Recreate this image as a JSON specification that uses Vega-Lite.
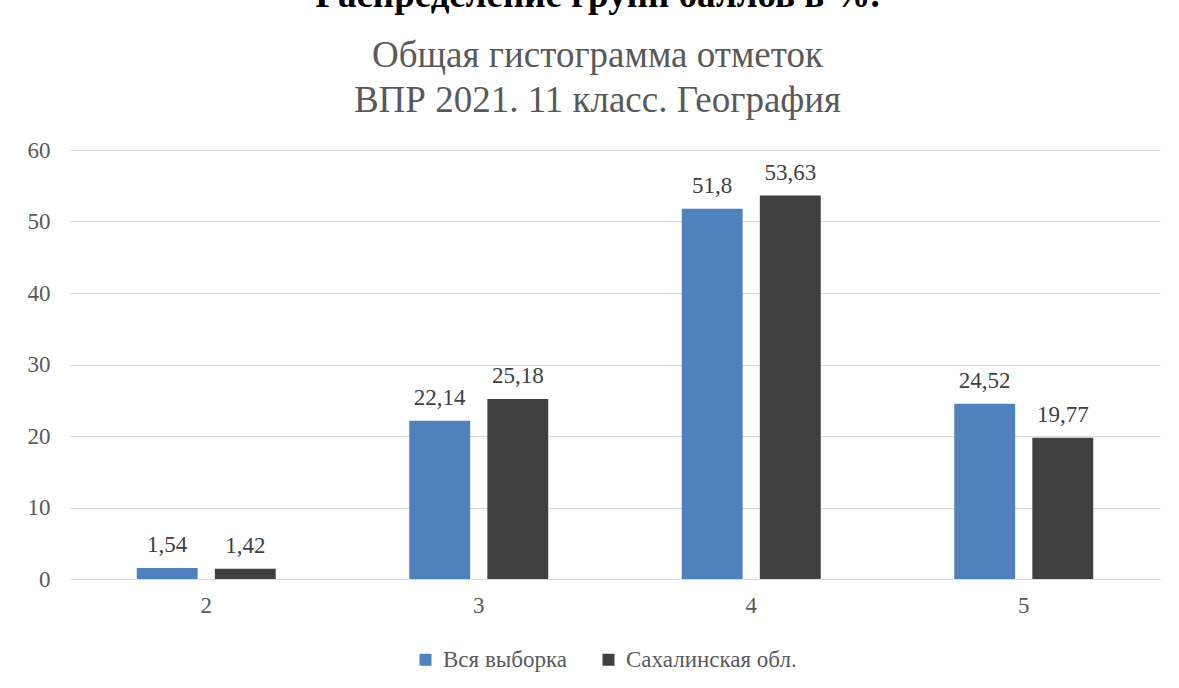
{
  "$schema": "https://vega.github.io/schema/vega-lite/v6.json",
  "autosize": "none",
  "width": 1090,
  "height": 429,
  "padding": {"left": 70, "top": 150, "right": 19, "bottom": 109},
  "background": "white",
  "title": {
    "text": "Распределение групп баллов в %.",
    "subtitle": ["Общая гистограмма отметок", "ВПР 2021. 11 класс. География"],
    "anchor": "middle",
    "frame": "bounds",
    "dx": 4,
    "font": "Liberation Serif",
    "fontSize": 37,
    "fontWeight": "bold",
    "color": "#000000",
    "subtitleFont": "Liberation Serif",
    "subtitleFontSize": 37,
    "subtitleFontWeight": "normal",
    "subtitleColor": "#595959",
    "subtitleLineHeight": 45,
    "subtitlePadding": 23,
    "offset": 19
  },
  "config": {
    "font": "Liberation Serif",
    "view": {"stroke": null},
    "locale": {"number": {"decimal": ",", "thousands": " ", "grouping": [3], "currency": ["", ""]}}
  },
  "data": {
    "values": [
      {"grade": "2", "series": "Вся выборка", "value": 1.54},
      {"grade": "2", "series": "Сахалинская обл.", "value": 1.42},
      {"grade": "3", "series": "Вся выборка", "value": 22.14},
      {"grade": "3", "series": "Сахалинская обл.", "value": 25.18},
      {"grade": "4", "series": "Вся выборка", "value": 51.8},
      {"grade": "4", "series": "Сахалинская обл.", "value": 53.63},
      {"grade": "5", "series": "Вся выборка", "value": 24.52},
      {"grade": "5", "series": "Сахалинская обл.", "value": 19.77}
    ]
  },
  "encoding": {
    "x": {
      "field": "grade",
      "type": "nominal",
      "scale": {"paddingInner": 0.49, "paddingOuter": 0.245},
      "axis": {
        "title": null,
        "labelAngle": 0,
        "labelFont": "Liberation Serif",
        "labelFontSize": 23,
        "labelColor": "#595959",
        "labelPadding": 15,
        "ticks": false,
        "domainColor": "#d9d9d9",
        "domainWidth": 1
      }
    },
    "xOffset": {
      "field": "series",
      "type": "nominal",
      "scale": {"paddingInner": 0.22, "paddingOuter": 0}
    },
    "y": {
      "field": "value",
      "type": "quantitative",
      "scale": {"domain": [0, 60], "nice": false},
      "axis": {
        "title": null,
        "values": [0, 10, 20, 30, 40, 50, 60],
        "domain": false,
        "ticks": false,
        "gridColor": "#d9d9d9",
        "gridWidth": 1,
        "labelFont": "Liberation Serif",
        "labelFontSize": 23,
        "labelColor": "#595959",
        "labelPadding": 20
      }
    }
  },
  "layer": [
    {
      "mark": {"type": "bar"},
      "encoding": {
        "color": {
          "field": "series",
          "type": "nominal",
          "scale": {"domain": ["Вся выборка", "Сахалинская обл."], "range": ["#4f81bd", "#404040"]},
          "legend": {
            "title": null,
            "orient": "none",
            "legendX": 344,
            "legendY": 498,
            "direction": "horizontal",
            "symbolType": "square",
            "symbolSize": 144,
            "symbolStrokeWidth": 0,
            "labelFontSize": 23,
            "labelColor": "#595959",
            "labelFont": "Liberation Serif",
            "labelLimit": 400,
            "columnPadding": 30,
            "labelOffset": 6
          }
        }
      }
    },
    {
      "mark": {"type": "text", "dy": -16, "baseline": "alphabetic", "fontSize": 23, "color": "#404040", "font": "Liberation Serif"},
      "encoding": {
        "text": {"field": "value", "type": "quantitative", "format": ".4~g"}
      }
    }
  ]
}
